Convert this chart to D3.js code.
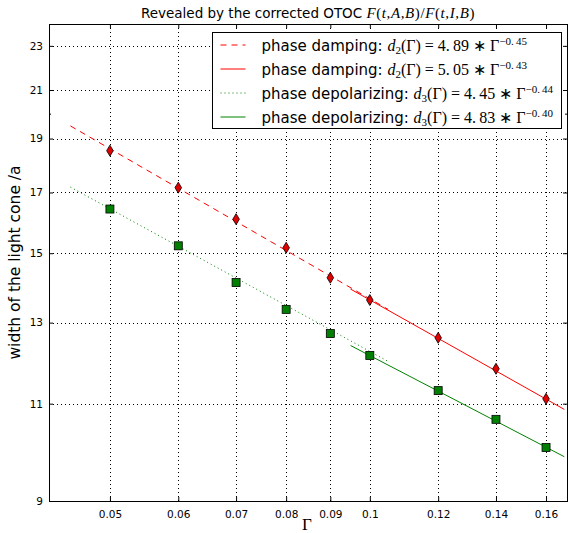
<!DOCTYPE html>
<html>
<head>
<meta charset="utf-8">
<script src="https://cdn.jsdelivr.net/npm/d3@7"></script>
<style>
  body { margin: 0; background: #fff; }
  text { font-family: "DejaVu Sans", sans-serif; }
  .math { font-family: "Liberation Serif", serif; font-style: italic; }
  .rm { font-family: "Liberation Serif", serif; font-style: normal; }
</style>
</head>
<body>
<div id="container"></div>
<script>
// values
const gammas = [0.05, 0.06, 0.07, 0.08, 0.09, 0.1, 0.12, 0.14, 0.16];
const dampingWidth = [18.53, 17.17, 16.09, 15.17, 14.26, 13.62, 12.60, 11.82, 11.11];
const depolWidth = [16.43, 15.23, 14.12, 13.36, 12.71, 12.15, 11.30, 10.65, 10.05];

// fitted lines, end points
const dampingFitA = [[0.045, 19.5], [0.105, 13.36]];
const dampingFitB = [[0.095, 13.93], [0.168, 10.87]];
const depolFitA = [[0.045, 17.19], [0.105, 12.0]];
const depolFitB = [[0.095, 12.40], [0.168, 9.86]];

const xTicks = [0.05, 0.06, 0.07, 0.08, 0.09, 0.1, 0.12, 0.14, 0.16];
const yTicks = [9, 11, 13, 15, 17, 19, 21, 23];
const yMinor = [20];

const legendLabels = [
  {name: "phase damping: ", sub: "2", a: "4.89", p: "\u22120.45"},
  {name: "phase damping: ", sub: "2", a: "5.05", p: "\u22120.43"},
  {name: "phase depolarizing: ", sub: "3", a: "4.45", p: "\u22120.44"},
  {name: "phase depolarizing: ", sub: "3", a: "4.83", p: "\u22120.40"}
];

const W = 569, H = 533;
const m = {left: 49, right: 2, top: 24, bottom: 32};
const w = W - m.left - m.right, h = H - m.top - m.bottom;

const svg = d3.select("#container").append("svg")
  .attr("width", W).attr("height", H);

const x = d3.scaleLog().domain([0.0425, 0.1692]).range([0, w]);
const y = d3.scaleLog().domain([9, 24.06]).range([h, 0]);

const g = svg.append("g").attr("transform", "translate(" + m.left + "," + m.top + ")");

svg.append("defs").append("clipPath").attr("id", "clip")
  .append("rect").attr("width", w).attr("height", h);

// grid
g.append("g").selectAll("line").data(xTicks).enter().append("line")
  .attr("x1", d => Math.round(x(d)) + 0.5).attr("x2", d => Math.round(x(d)) + 0.5)
  .attr("y1", 0).attr("y2", h)
  .attr("stroke", "#000").attr("stroke-width", 1).attr("stroke-dasharray", "1,3");
g.append("g").selectAll("line").data(yTicks.slice(1)).enter().append("line")
  .attr("y1", d => Math.round(y(d)) + 0.5).attr("y2", d => Math.round(y(d)) + 0.5)
  .attr("x1", 0).attr("x2", w)
  .attr("stroke", "#000").attr("stroke-width", 1).attr("stroke-dasharray", "1,3");

// axes
const fmtX = d3.format("~g");
const xAxis = g.append("g").attr("transform", "translate(0," + h + ")")
  .call(d3.axisBottom(x).tickValues(xTicks).tickFormat(fmtX).tickSizeInner(-4).tickSizeOuter(0).tickPadding(10));
const xAxisTop = g.append("g")
  .call(d3.axisTop(x).tickValues(xTicks).tickFormat("").tickSizeInner(-4).tickSizeOuter(0));
const yAxis = g.append("g")
  .call(d3.axisLeft(y).tickValues(yTicks).tickFormat(d3.format("d")).tickSizeInner(-4).tickSizeOuter(0).tickPadding(6));
const yAxisRight = g.append("g").attr("transform", "translate(" + w + ",0)")
  .call(d3.axisRight(y).tickValues(yTicks).tickFormat("").tickSizeInner(-4).tickSizeOuter(0));
const yMinorL = g.append("g")
  .call(d3.axisLeft(y).tickValues(yMinor).tickFormat("").tickSizeInner(-2).tickSizeOuter(0));
const yMinorR = g.append("g").attr("transform", "translate(" + w + ",0)")
  .call(d3.axisRight(y).tickValues(yMinor).tickFormat("").tickSizeInner(-2).tickSizeOuter(0));
[xAxis, xAxisTop, yAxis, yAxisRight, yMinorL, yMinorR].forEach(a => {
  a.select(".domain").remove();
  a.selectAll("text").attr("font-family", "DejaVu Sans").attr("font-size", 10.5).attr("fill", "#000");
  a.selectAll("line").attr("stroke", "#000");
});

g.append("rect").attr("x", 0.5).attr("y", 0.5).attr("width", w).attr("height", h)
  .attr("fill", "none").attr("stroke", "#000").attr("stroke-width", 1);

// fit lines
const line = d3.line().x(d => x(d[0])).y(d => y(d[1]));
const plot = g.append("g").attr("clip-path", "url(#clip)");
plot.append("path").datum(dampingFitA).attr("d", line)
  .attr("fill", "none").attr("stroke", "#ff0000").attr("stroke-width", 1).attr("stroke-dasharray", "6,5");
plot.append("path").datum(dampingFitB).attr("d", line)
  .attr("fill", "none").attr("stroke", "#ff0000").attr("stroke-width", 1);
plot.append("path").datum(depolFitA).attr("d", line)
  .attr("fill", "none").attr("stroke", "#008000").attr("stroke-width", 1).attr("stroke-dasharray", "1,3");
plot.append("path").datum(depolFitB).attr("d", line)
  .attr("fill", "none").attr("stroke", "#008000").attr("stroke-width", 1);

// markers
plot.selectAll(".diamond").data(gammas).enter().append("path")
  .attr("class", "diamond")
  .attr("transform", (d, i) => "translate(" + x(d) + "," + y(dampingWidth[i]) + ")")
  .attr("d", "M0,-5.5L3.3,0L0,5.5L-3.3,0Z")
  .attr("fill", "#e00000").attr("stroke", "#000").attr("stroke-width", 0.8);
plot.selectAll(".square").data(gammas).enter().append("rect")
  .attr("class", "square")
  .attr("x", (d) => x(d) - 4).attr("y", (d, i) => y(depolWidth[i]) - 4)
  .attr("width", 8).attr("height", 8)
  .attr("fill", "#008000").attr("stroke", "#000").attr("stroke-width", 0.8);

// legend
const lg = svg.append("g").attr("transform", "translate(212.5,32.5)");
lg.append("rect").attr("width", 349).attr("height", 96)
  .attr("fill", "#fff").attr("stroke", "#000").attr("stroke-width", 1);
const styles = [
  {c: "#ff0000", dash: "6,5"}, {c: "#ff0000", dash: null},
  {c: "#008000", dash: "1,3"}, {c: "#008000", dash: null}
];
legendLabels.forEach((l, i) => {
  const yy = 12.5 + i * 24;
  lg.append("line").attr("x1", 8).attr("x2", 33).attr("y1", yy).attr("y2", yy)
    .attr("stroke", styles[i].c).attr("stroke-width", 1)
    .attr("stroke-dasharray", styles[i].dash);
  const t = lg.append("text").attr("x", 49).attr("y", yy + 5.5).attr("font-size", 15);
  t.append("tspan").text(l.name);
  t.append("tspan").attr("class", "math").attr("font-size", 16).text("d");
  t.append("tspan").attr("class", "rm").attr("font-size", 11).attr("dy", 3).text(l.sub);
  t.append("tspan").attr("class", "rm").attr("font-size", 16).attr("dy", -3)
    .text("(\u0393)\u2005=\u2005" + l.a.replace(".", ".\u2009") + "\u2005\u2217\u2005\u0393");
  t.append("tspan").attr("class", "rm").attr("font-size", 11).attr("dy", -6).text(l.p.replace(".", ".\u2009"));
});

// title and axis labels
const title = svg.append("text").attr("x", m.left + w / 2).attr("y", 18)
  .attr("text-anchor", "middle").attr("font-size", 13.5);
title.append("tspan").text("Revealed by the corrected OTOC ");
const tm = [["math", "F"], ["rm", "("], ["math", "t,A,B"], ["rm", ")/"],
            ["math", "F"], ["rm", "("], ["math", "t,I,B"], ["rm", ")"]];
tm.forEach(p => title.append("tspan").attr("class", p[0]).attr("font-size", 15)
  .attr("letter-spacing", 0.6).text(p[1]));

svg.append("text").attr("class", "rm").attr("x", m.left + w / 2 - 1).attr("y", 530)
  .attr("text-anchor", "middle").attr("font-size", 17).text("\u0393");

svg.append("text").attr("transform", "translate(20," + (m.top + h / 2) + ") rotate(-90)")
  .attr("text-anchor", "middle").attr("font-size", 15.5).text("width of the light cone /a");
</script>
</body>
</html>
